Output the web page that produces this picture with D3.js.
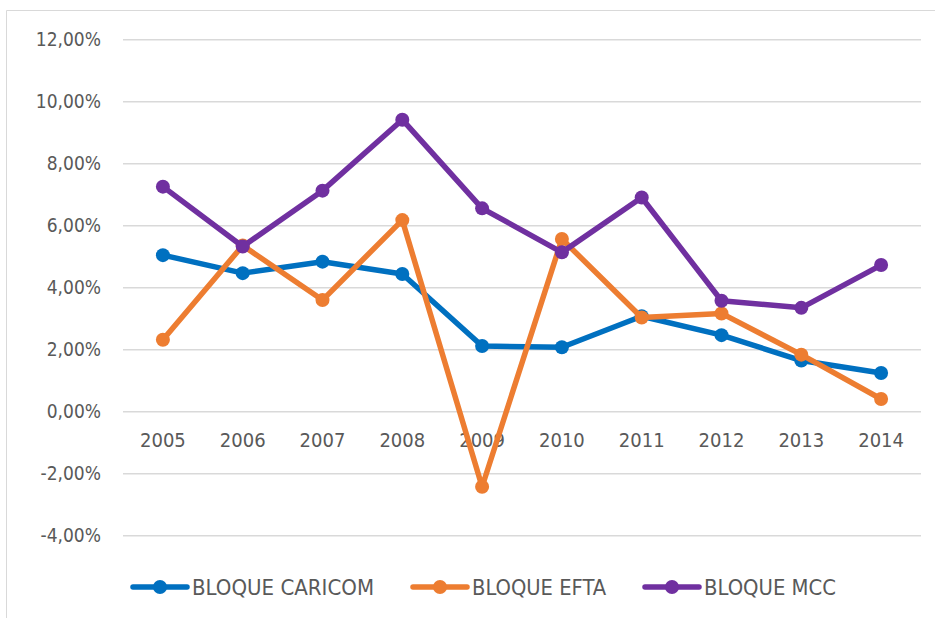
<!DOCTYPE html>
<html>
<head>
<meta charset="utf-8">
<script src="https://cdn.jsdelivr.net/npm/d3@7"></script>
<style>
  html, body { margin: 0; padding: 0; background: #fff; }
  svg { display: block; }
  text { font-family: "Liberation Sans Narrow", "DejaVu Sans Condensed", "Noto Sans", sans-serif; fill: #595959; }
</style>
</head>
<body>
<svg id="chart" width="935" height="618"></svg>
<script>
// datos (porcentajes)
var years = ["2005", "2006", "2007", "2008", "2009", "2010", "2011", "2012", "2013", "2014"];
var caricom = [5.05, 4.47, 4.84, 4.44, 2.12, 2.08, 3.08, 2.47, 1.65, 1.25];
var efta    = [2.32, 5.36, 3.60, 6.18, -2.42, 5.57, 3.04, 3.17, 1.84, 0.41];
var mcc     = [7.26, 5.33, 7.13, 9.42, 6.56, 5.14, 6.91, 3.58, 3.35, 4.73];
var yTicks  = [-4, -2, 0, 2, 4, 6, 8, 10, 12];

var seriesNames  = ["BLOQUE CARICOM", "BLOQUE EFTA", "BLOQUE MCC"];
var seriesColors = ["#0070C0", "#ED7D31", "#7030A0"];
var seriesValues = [caricom, efta, mcc];

var svg = d3.select("#chart");

// borde del area del grafico
svg.append("path")
   .attr("d", "M6.5,618 V10.5 H935")
   .attr("fill", "none")
   .attr("stroke", "#d9d9d9")
   .attr("stroke-width", 1);

var x = d3.scaleBand().domain(years).range([123, 921]);
var y = d3.scaleLinear().domain([-4, 12]).range([535.7, 39.7]);

// lineas de cuadricula
svg.append("g").selectAll("line")
   .data(yTicks)
   .enter().append("line")
   .attr("x1", 123).attr("x2", 921)
   .attr("y1", function(d){ return y(d); })
   .attr("y2", function(d){ return y(d); })
   .attr("stroke", "#d9d9d9")
   .attr("stroke-width", 1.5);

// eje y
var fmt = function(d){ return (d < 0 ? "-" : "") + d3.format(".2f")(Math.abs(d)).replace(".", ",") + "%"; };
var yAxis = svg.append("g")
   .attr("transform", "translate(101,0)")
   .call(d3.axisLeft(y).tickValues(yTicks).tickFormat(fmt).tickSize(0).tickPadding(0));
yAxis.select(".domain").remove();
yAxis.selectAll("text")
   .attr("font-size", "19px")
   .attr("fill", "#595959")
   .style("font-family", null);

// eje x (etiquetas debajo de 0%)
var xAxis = svg.append("g")
   .attr("transform", "translate(0," + y(0) + ")")
   .call(d3.axisBottom(x).tickSize(0).tickPadding(21));
xAxis.select(".domain").remove();
xAxis.selectAll("text")
   .attr("font-size", "20px")
   .attr("fill", "#595959")
   .style("font-family", null);

var line = d3.line()
   .x(function(d, i){ return x(years[i]) + x.bandwidth() / 2; })
   .y(function(d){ return y(d); });

seriesValues.forEach(function(vals, s){
    var g = svg.append("g");
    g.append("path")
     .datum(vals)
     .attr("d", line)
     .attr("fill", "none")
     .attr("stroke", seriesColors[s])
     .attr("stroke-width", 5.5)
     .attr("stroke-linejoin", "round")
     .attr("stroke-linecap", "round");
    g.selectAll("circle")
     .data(vals)
     .enter().append("circle")
     .attr("cx", function(d, i){ return x(years[i]) + x.bandwidth() / 2; })
     .attr("cy", function(d){ return y(d); })
     .attr("r", 7)
     .attr("fill", seriesColors[s]);
});

// leyenda
var legendX = [133, 413, 645];
var legendW = [182, 134, 132];
var legend = svg.append("g");
seriesNames.forEach(function(name, s){
    var lx = legendX[s], ly = 587;
    legend.append("line")
      .attr("x1", lx).attr("x2", lx + 54)
      .attr("y1", ly).attr("y2", ly)
      .attr("stroke", seriesColors[s])
      .attr("stroke-width", 5.5)
      .attr("stroke-linecap", "round");
    legend.append("circle")
      .attr("cx", lx + 27).attr("cy", ly).attr("r", 7)
      .attr("fill", seriesColors[s]);
    legend.append("text")
      .attr("x", lx + 59).attr("y", ly)
      .attr("dy", "0.36em")
      .attr("font-size", "21px")
      .attr("textLength", legendW[s])
      .attr("lengthAdjust", "spacingAndGlyphs")
      .text(name);
});
</script>
</body>
</html>
